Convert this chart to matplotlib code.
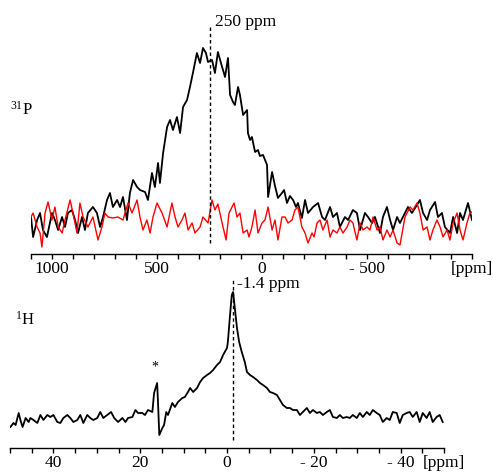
import matplotlib
matplotlib.use("Agg")
import matplotlib.pyplot as plt
from matplotlib.ticker import MultipleLocator, FixedLocator

plt.rcParams['font.family'] = ['Liberation Serif', 'DejaVu Serif']
plt.rcParams['mathtext.fontset'] = 'custom'
plt.rcParams['mathtext.rm'] = 'Liberation Serif'
plt.rcParams['mathtext.it'] = 'Liberation Serif:italic'

# ---------------- 31P spectrum (ppm, arbitrary intensity) ----------------
p_black_ppm = [1100, 1090, 1071, 1057, 1043, 1024, 1000, 986, 971, 952,
               938, 924, 905, 890, 876, 857, 843, 829, 805, 786,
               771, 757, 738, 724, 710, 690, 676, 662, 643, 629,
               614, 595, 581, 557, 543, 524, 510, 495, 486, 471,
               452, 438, 424, 405, 390, 376, 357, 343, 329, 310,
               295, 281, 267, 257, 238, 224, 210, 190, 176, 162,
               152, 138, 129, 114, 105, 90, 71, 67, 57, 48,
               33, 19, 10, -5, -24, -29, -48, -62, -76, -95,
               -105, -119, -133, -148, -162, -171, -190, -205, -219, -243,
               -267, -286, -300, -324, -338, -357, -371, -395, -410, -433,
               -452, -467, -490, -505, -524, -538, -562, -576, -595, -610,
               -624, -643, -657, -681, -695, -714, -729, -752, -767, -786,
               -800, -824, -838, -857, -871, -895, -910, -929, -943, -957,
               -981, -1000]
p_black_int = [13, -7, 10, 17, 0, -7, 17, 10, 0, 13,
               3, 17, 20, 10, -3, 13, 0, 17, 23, 17,
               3, 13, 30, 37, 23, 30, 23, 33, 10, 37,
               50, 43, 40, 38, 30, 57, 43, 67, 47, 77,
               103, 110, 100, 113, 97, 123, 130, 143, 157, 177,
               167, 182, 177, 168, 170, 157, 178, 163, 153, 172,
               135, 128, 125, 143, 135, 115, 120, 97, 90, 93,
               78, 80, 74, 75, 65, 33, 58, 44, 32, 37,
               40, 27, 34, 30, 23, 27, 12, 30, 17, 23,
               27, 13, 10, 23, 13, 17, 3, 13, 10, 20,
               17, 0, 17, 13, 7, 13, -3, 13, 23, 10,
               0, 13, 7, 17, 23, 17, 22, 30, 17, 10,
               20, 28, 13, 17, 3, -3, 13, -3, 17, 10,
               27, 10]

p_red_ppm = [1100, 1090, 1071, 1057, 1048, 1033, 1019, 1000, 986, 971,
             952, 938, 914, 900, 881, 867, 852, 829, 805, 781,
             762, 748, 733, 710, 686, 662, 638, 619, 595, 581,
             567, 548, 533, 519, 500, 476, 452, 429, 414, 400,
             381, 367, 352, 333, 319, 295, 281, 257, 238, 224,
             210, 190, 171, 157, 133, 119, 105, 90, 71, 62,
             48, 33, 19, 0, -14, -29, -48, -62, -76, -95,
             -110, -124, -143, -157, -171, -190, -205, -219, -238, -248,
             -262, -276, -290, -310, -324, -338, -357, -371, -386, -405,
             -419, -433, -452, -467, -481, -500, -514, -529, -548, -562,
             -576, -595, -610, -624, -643, -657, -681, -705, -719, -738,
             -752, -767, -786, -800, -814, -833, -848, -862, -881, -895,
             -910, -929, -943, -957, -976, -990, -1000]
p_red_int = [13, 17, 3, -3, -17, 17, 28, 10, 23, 3,
             -3, 10, 30, 17, -3, 27, 13, 3, 13, -10,
             3, 17, 13, 12, 13, 10, 27, 17, 30, 13,
             0, 10, -3, 13, 27, 17, 3, 27, 13, 3,
             10, 17, 0, 7, -3, 3, 13, 7, 30, 20,
             26, 7, -10, 17, 27, 13, 17, -3, 0, -7,
             3, 20, -3, 7, 10, 23, 0, 10, -10, 13,
             13, 7, 10, 20, 23, 3, -3, -13, -3, -7,
             7, 10, 0, 10, -7, 0, -3, 3, -3, 3,
             10, 7, -10, 7, 0, 3, 0, 13, 0, 3,
             -10, 0, -7, 0, -13, -15, 13, 23, 20, 27,
             17, 0, 3, -10, 0, 10, 3, -7, 0, -10,
             7, 17, 0, -10, 7, 17, 18]

p_ticks = [1000, 500, 0, -500, -1000]
p_ticklabels = ['1000', '500', '0', '- 500', '[ppm]']

# ---------------- 1H spectrum ----------------
h_ppm = [49.9, 49.2, 48.7, 48.0, 47.6, 47.1, 46.4, 45.7, 45.3, 44.6,
         43.7, 43.0, 42.3, 41.4, 40.7, 40.0, 39.1, 38.4, 37.7, 36.8,
         36.1, 35.4, 34.5, 33.8, 33.1, 32.2, 31.5, 30.8, 29.9, 29.2,
         28.5, 27.6, 26.7, 26.0, 25.1, 24.1, 23.4, 22.8, 21.8, 21.1,
         20.5, 19.5, 18.9, 18.2, 17.2, 16.8, 16.1, 15.9, 15.6, 14.9,
         14.5, 14.0, 13.6, 12.6, 12.0, 11.3, 10.3, 9.7, 9.0, 8.5,
         7.8, 6.9, 6.2, 5.5, 4.6, 3.9, 3.2, 2.3, 1.6, 0.9,
         0.0, -0.2, -0.7, -1.1, -1.4, -1.8, -2.3, -2.8, -3.4, -4.1,
         -4.6, -5.3, -6.0, -6.9, -7.6, -8.3, -9.2, -9.9, -10.6, -11.5,
         -12.2, -12.9, -13.8, -14.5, -15.2, -16.1, -16.8, -17.5, -18.4, -19.1,
         -19.8, -20.7, -21.4, -22.1, -23.0, -23.7, -24.4, -25.3, -26.0, -26.7,
         -27.6, -28.3, -29.0, -29.9, -30.6, -31.3, -32.2, -32.9, -33.6, -34.5,
         -35.2, -35.9, -36.8, -37.5, -38.2, -39.1, -39.8, -40.5, -41.4, -42.1,
         -42.8, -43.7, -44.4, -45.1, -46.0, -46.7, -47.4, -48.3, -49.0, -49.7]
h_int = [13, 17, 15, 27, 20, 13, 22, 18, 22, 20,
         17, 25, 20, 25, 23, 25, 18, 17, 22, 25,
         22, 18, 20, 25, 17, 25, 22, 20, 22, 28,
         22, 25, 28, 22, 18, 22, 18, 22, 23, 30,
         27, 27, 25, 30, 28, 47, 57, 38, 5, 12,
         15, 28, 25, 37, 33, 38, 42, 43, 48, 52,
         48, 52, 58, 62, 65, 67, 70, 75, 78, 85,
         92, 98, 125, 145, 148, 132, 112, 98, 88, 78,
         68, 65, 63, 60, 57, 55, 52, 48, 47, 45,
         40, 35, 32, 32, 30, 30, 25, 28, 32, 27,
         30, 27, 28, 25, 28, 30, 23, 22, 25, 22,
         23, 22, 25, 22, 27, 23, 28, 25, 30, 27,
         25, 18, 22, 20, 28, 27, 17, 25, 27, 28,
         23, 28, 18, 27, 22, 28, 18, 23, 25, 18]

h_ticks = [40, 20, 0, -20, -40, -50]
h_ticklabels = ['40', '20', '0', '- 20', '- 40', '[ppm]']

W, H = 493, 475
fig = plt.figure(figsize=(W / 100, H / 100), dpi=100)

FS = 12.5

def style_axis(ax):
    for s in ['left', 'right', 'top']:
        ax.spines[s].set_visible(False)
    ax.spines['bottom'].set_linewidth(1.0)
    ax.set_yticks([])
    ax.tick_params(axis='x', which='both', direction='out', length=3.5,
                   width=1.0, labelsize=FS, pad=1.5)
    ax.patch.set_alpha(0)

# ---- top (31P) ----
ax1 = fig.add_axes([31 / W, 1 - 254 / H, 441 / W, 234 / H])
ax1.plot(p_black_ppm, p_black_int, color='black', lw=1.3)
ax1.plot(p_red_ppm, p_red_int, color='red', lw=1.0)
ax1.set_xlim(1100, -1000)
ax1.set_ylim(-24, 210)
ax1.xaxis.set_major_locator(FixedLocator(p_ticks))
ax1.set_xticklabels(p_ticklabels)
ax1.xaxis.set_minor_locator(MultipleLocator(100))
style_axis(ax1)
ax1.vlines(250, -13, 205, colors='black', linestyles=(0, (2.5, 2)), lw=1.0)
ax1.text(225, 208, '250 ppm', fontsize=FS, ha='left', va='center')

# ---- bottom (1H) ----
ax2 = fig.add_axes([10 / W, 1 - 448 / H, 434 / W, 173 / H])
ax2.plot(h_ppm, h_int, color='black', lw=1.3)
ax2.set_xlim(50, -50)
ax2.set_ylim(-8, 165)
ax2.xaxis.set_major_locator(FixedLocator(h_ticks))
ax2.set_xticklabels(h_ticklabels)
ax2.xaxis.set_minor_locator(MultipleLocator(5))
style_axis(ax2)
ax2.vlines(-1.4, 0, 162, colors='black', linestyles=(0, (2.5, 2)), lw=1.0)
ax2.text(-2.2, 156, '-1.4 ppm', fontsize=FS, ha='left', va='center')
ax2.text(16.6, 73, '*', fontsize=10, ha='center', va='center')

fig.text(10 / W, 1 - 110 / H, r'$^{31}$P', fontsize=12, ha='left', va='center')
fig.text(15 / W, 1 - 320 / H, r'$^{1}$H', fontsize=12, ha='left', va='center')

fig.savefig('out.png', dpi=100)
